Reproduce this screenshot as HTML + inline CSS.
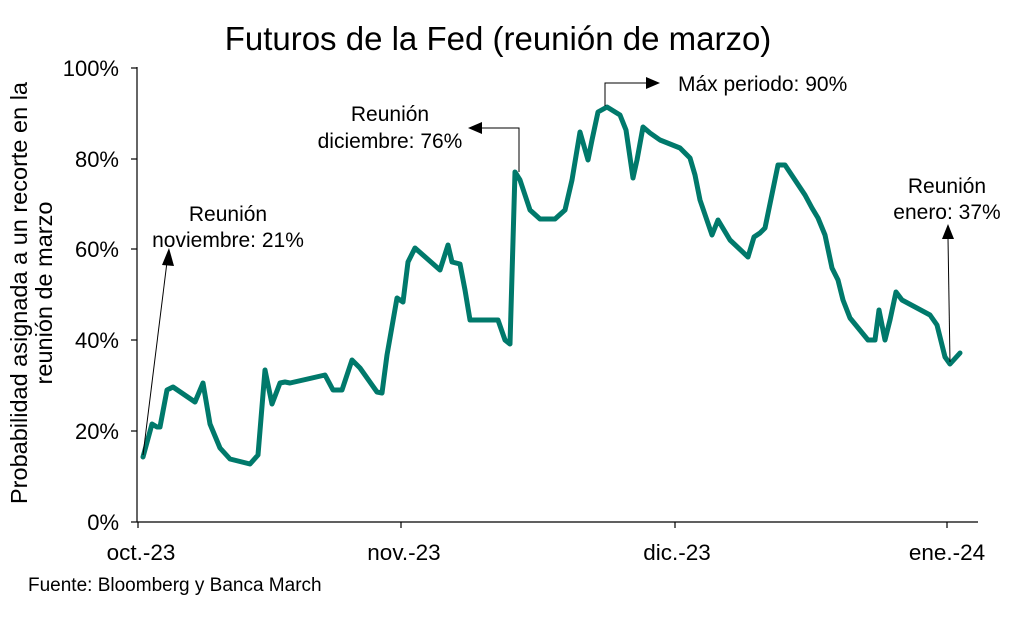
<!DOCTYPE html>
<html><head><meta charset="utf-8"><style>
body{margin:0;background:#fff;}
svg text{font-family:"Liberation Sans",Arial,sans-serif;fill:#000;}
</style></head><body>
<svg width="1024" height="614" viewBox="0 0 1024 614" xmlns="http://www.w3.org/2000/svg">
<text x="498" y="50" font-size="33" text-anchor="middle">Futuros de la Fed (reunión de marzo)</text>
<g transform="translate(27,293) rotate(-90)" font-size="23.5" text-anchor="middle">
<text x="0" y="0">Probabilidad asignada a un recorte en la</text>
<text x="0" y="25">reunión de marzo</text>
</g>
<g stroke="#000" stroke-width="1.2">
<line x1="137" y1="67" x2="137" y2="522"/>
<line x1="137" y1="522" x2="978" y2="522"/>
<line x1="131" y1="68" x2="137" y2="68"/>
<line x1="131" y1="159" x2="137" y2="159"/>
<line x1="131" y1="249" x2="137" y2="249"/>
<line x1="131" y1="340" x2="137" y2="340"/>
<line x1="131" y1="431" x2="137" y2="431"/>
<line x1="131" y1="522" x2="137" y2="522"/>
<line x1="138" y1="522" x2="138" y2="528"/>
<line x1="401" y1="522" x2="401" y2="528"/>
<line x1="675" y1="522" x2="675" y2="528"/>
<line x1="947" y1="522" x2="947" y2="528"/>
</g>
<g font-size="22" text-anchor="end">
<text x="119" y="76">100%</text>
<text x="119" y="167">80%</text>
<text x="119" y="257">60%</text>
<text x="119" y="348">40%</text>
<text x="119" y="439">20%</text>
<text x="119" y="530">0%</text>
</g>
<g font-size="22.5" text-anchor="middle">
<text x="141" y="560">oct.-23</text>
<text x="404" y="560">nov.-23</text>
<text x="677" y="560">dic.-23</text>
<text x="947" y="560">ene.-24</text>
</g>
<text x="28" y="591" font-size="19">Fuente: Bloomberg y Banca March</text>
<polyline fill="none" stroke="#00796b" stroke-width="5" stroke-linejoin="round" stroke-linecap="round" points="143,457 152,424 157,427 160,427 167,390 173,387 195,402 203,383 210,424 220,448 230,459 250,464 258,455 265,370 272,404 280,383 285,382 290,383 325,375 333,390 342,390 352,360 360,368 377,392 382,393 387,355 397,298 403,302 408,262 415,248 440,270 448,245 452,262 460,264 465,290 470,320 490,320 498,320 505,340 510,344 515,172 520,180 530,210 540,219 555,219 565,210 572,180 580,132 588,160 592,140 598,112 607,107 620,115 626,130 633,178 637,160 643,127 650,133 660,140 680,148 690,158 695,175 700,200 712,235 718,220 730,240 748,257 754,237 760,233 765,228 778,165 785,165 805,195 812,208 818,218 825,235 832,268 838,280 843,300 850,318 868,340 875,340 879,310 885,340 890,320 896,292 902,300 930,315 937,325 945,357 950,364 960,353"/>
<g stroke="#000" stroke-width="1" fill="none">
<line x1="143" y1="455" x2="167" y2="262"/>
<polyline points="519,172 519,128 480,128"/>
<polyline points="605,106 605,83 648,83"/>
<line x1="950" y1="362" x2="948" y2="238"/>
</g>
<g fill="#000">
<polygon points="169,248 162,265 174,266"/>
<polygon points="468,128 482,122 482,134"/>
<polygon points="660,83 646,77 646,89"/>
<polygon points="948,224 942,239 954,239"/>
</g>
<g font-size="21" text-anchor="middle">
<text x="228" y="221">Reunión</text>
<text x="228" y="247">noviembre: 21%</text>
<text x="390" y="121">Reunión</text>
<text x="390" y="148">diciembre: 76%</text>
<text x="947" y="193">Reunión</text>
<text x="947" y="219">enero: 37%</text>
</g>
<text x="678" y="91" font-size="21">Máx periodo: 90%</text>
</svg>
</body></html>
